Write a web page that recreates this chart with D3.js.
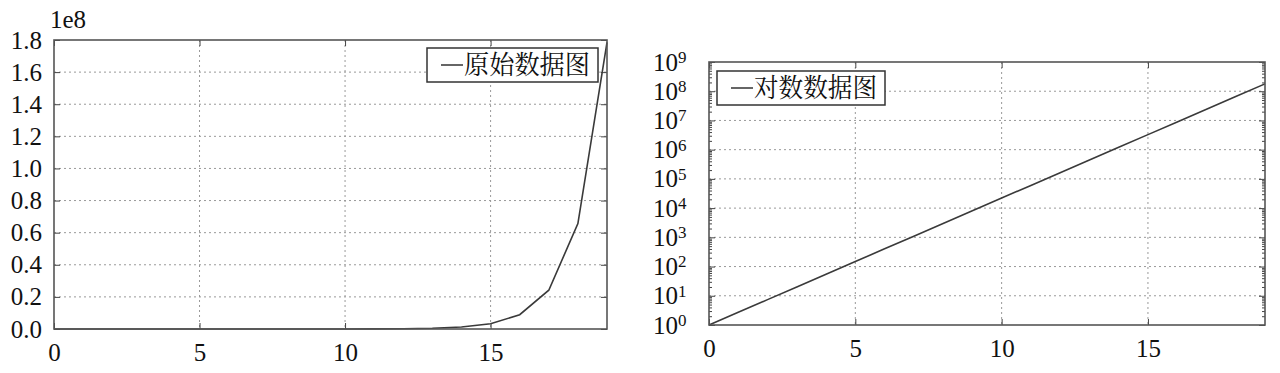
<!DOCTYPE html>
<html>
<head>
<meta charset="utf-8">
<script src="https://cdn.jsdelivr.net/npm/d3@7"></script>
<style>
  body { margin: 0; background: #fff; }
</style>
</head>
<body>
<svg id="chart" width="1280" height="373"></svg>
<script>
// x values 0..19 and the series
const xs = [0, 1, 2, 3, 4, 5, 6, 7, 8, 9, 10, 11, 12, 13, 14, 15, 16, 17, 18, 19]
const ys = [1, 2.718, 7.389, 20.09, 54.6, 148.4, 403.4, 1097, 2981, 8103, 22026, 59874,
  162755, 442413, 1202604, 3269017, 8886111, 24154953, 65659969, 178482301]
const xTicks = [0, 5, 10, 15]
const linTicks = [0, 0.2e8, 0.4e8, 0.6e8, 0.8e8, 1.0e8, 1.2e8, 1.4e8, 1.6e8, 1.8e8]
const logTicks = [1, 1e1, 1e2, 1e3, 1e4, 1e5, 1e6, 1e7, 1e8, 1e9]
const legendLeft = "原始数据图"
const legendRight = "对数数据图"

const SERIF = "Liberation Serif"
const data = xs.map((x, i) => ({x: x, y: ys[i]}))
const svg = d3.select("#chart")

function panel(box, yScale, yTickVals, yFmt, minor, legendBox, label, isLog) {
  const xScale = d3.scaleLinear().domain([0, 19]).range([box.l, box.r])
  const g = svg.append("g")

  // grid
  g.selectAll(".gx").data(xTicks.filter(t => t > 0)).join("line")
    .attr("x1", d => xScale(d)).attr("x2", d => xScale(d))
    .attr("y1", box.t).attr("y2", box.b)
    .attr("stroke", "#999").attr("stroke-dasharray", "2,3")
  g.selectAll(".gy").data(yTickVals.slice(1, -1)).join("line")
    .attr("x1", box.l).attr("x2", box.r)
    .attr("y1", d => yScale(d)).attr("y2", d => yScale(d))
    .attr("stroke", "#999").attr("stroke-dasharray", "2,3")

  // axes with inward ticks
  const xb = g.append("g").attr("transform", `translate(0,${box.b})`)
    .call(d3.axisBottom(xScale).tickValues(xTicks).tickSize(-6).tickPadding(14).tickFormat(d3.format("d")))
  xb.attr("font-family", SERIF).attr("font-size", 25)
  xb.select(".domain").remove()
  xb.selectAll("text").attr("fill", "#111")
  g.append("g").attr("transform", `translate(0,${box.t})`)
    .call(d3.axisTop(xScale).tickValues(xTicks).tickSize(-6).tickFormat(""))
    .call(a => a.select(".domain").remove())
  const yl = g.append("g").attr("transform", `translate(${box.l},0)`)
    .call(d3.axisLeft(yScale).tickValues(yTickVals).tickSize(-6).tickPadding(12)
      .tickFormat(isLog ? () => "10" : yFmt))
  yl.attr("font-family", SERIF).attr("font-size", 25)
  yl.select(".domain").remove()
  yl.selectAll("text").attr("fill", "#111")
  if (isLog) {
    yl.selectAll("text")
      .attr("dx", "-0.42em")
      .append("tspan").attr("dy", "-0.45em").attr("font-size", 17)
      .text(d => Math.round(Math.log10(d)))
  }
  g.append("g").attr("transform", `translate(${box.r},0)`)
    .call(d3.axisRight(yScale).tickValues(yTickVals).tickSize(-6).tickFormat(""))
    .call(a => a.select(".domain").remove())
  if (minor) {
    g.append("g").attr("transform", `translate(${box.l},0)`)
      .call(d3.axisLeft(yScale).tickValues(minor).tickSize(-3).tickFormat(""))
      .call(a => a.select(".domain").remove())
    g.append("g").attr("transform", `translate(${box.r},0)`)
      .call(d3.axisRight(yScale).tickValues(minor).tickSize(-3).tickFormat(""))
      .call(a => a.select(".domain").remove())
  }
  g.selectAll(".tick line").attr("stroke", "#444")

  // data line
  g.append("path").datum(data)
    .attr("fill", "none").attr("stroke", "#3a3a3a").attr("stroke-width", 1.6)
    .attr("d", d3.line().x(d => xScale(d.x)).y(d => yScale(d.y)))

  // frame
  g.append("rect").attr("x", box.l).attr("y", box.t)
    .attr("width", box.r - box.l).attr("height", box.b - box.t)
    .attr("fill", "none").attr("stroke", "#555").attr("stroke-width", 1.6)

  // legend
  const lg = g.append("g")
  lg.append("rect").attr("x", legendBox.x).attr("y", legendBox.y)
    .attr("width", legendBox.w).attr("height", legendBox.h)
    .attr("fill", "#fff").attr("stroke", "#333").attr("stroke-width", 1.5)
  const my = legendBox.y + legendBox.h / 2
  lg.append("line").attr("x1", legendBox.x + 14).attr("x2", legendBox.x + 36)
    .attr("y1", my).attr("y2", my).attr("stroke", "#333").attr("stroke-width", 1.5)
  lg.append("text").attr("x", legendBox.x + 37).attr("y", my + 9)
    .attr("font-family", "Noto Serif CJK SC").attr("font-size", 26).attr("fill", "#111")
    .attr("textLength", legendBox.w - 45).attr("lengthAdjust", "spacingAndGlyphs")
    .text(label)
}

// left: raw values
const yLin = d3.scaleLinear().domain([0, 1.8e8]).range([329, 40])
panel({l: 54, r: 607, t: 40, b: 329}, yLin, linTicks, d => (d / 1e8).toFixed(1), null,
  {x: 427, y: 48, w: 171, h: 34}, legendLeft, false)
svg.append("text").attr("x", 50).attr("y", 28)
  .attr("font-family", SERIF).attr("font-size", 25).attr("fill", "#111")
  .text("1e8")

// right: log scale
const yLog = d3.scaleLog().domain([1, 1e9]).range([325, 62])
const minorLog = []
logTicks.slice(0, -1).forEach(p => { for (let k = 2; k < 10; k++) minorLog.push(p * k) })
panel({l: 709, r: 1265, t: 62, b: 325}, yLog, logTicks, null, minorLog,
  {x: 717, y: 71, w: 168, h: 34}, legendRight, true)
</script>
</body>
</html>
